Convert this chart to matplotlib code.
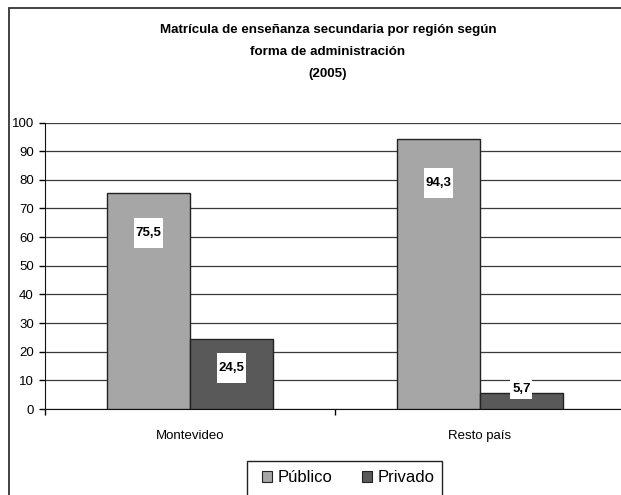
import matplotlib
matplotlib.use("Agg")
import matplotlib.pyplot as plt
from matplotlib.patches import Rectangle, Patch
from matplotlib.transforms import ScaledTranslation
import numpy as np

plt.rcParams["font.family"] = ["Liberation Sans Narrow", "Liberation Sans", "DejaVu Sans"]

# data
regions = ["Montevideo", "Resto país"]
series_names = ["Público", "Privado"]
publico = [75.5, 94.3]
privado = [24.5, 5.7]
title_lines = ["Matrícula de enseñanza secundaria por región según",
               "forma de administración",
               "(2005)"]

colors = ["#a6a6a6", "#595959"]
# label box offsets from bar top (pixels) and box heights, as in the original
label_dy = [[-40, -44], [-29, 4]]
label_h = [[30, 30], [30, 20]]

W, H = 621, 495
fig = plt.figure(figsize=(W / 100, H / 100), dpi=100)

# outer chart border (cropped on the right and bottom)
fig.patches.append(Rectangle((8.5 / W, -0.2), 1.5, 1.2 - 8 / H, transform=fig.transFigure,
                             fill=False, edgecolor="#333333", linewidth=1.3))

ax = fig.add_axes([45 / W, 1 - 409 / H, 580 / W, 286.5 / H])

x = np.arange(len(regions)) + 0.5
bw = 0.286
series = [publico, privado]
for i, (vals, c) in enumerate(zip(series, colors)):
    xs = x + (i - 0.5) * bw
    ax.bar(xs, vals, width=bw, color=c, edgecolor="#222222", linewidth=1.0, zorder=3)
    for j, (xx, v) in enumerate(zip(xs, vals)):
        txt = f"{v:.1f}".replace(".", ",")
        dy = label_dy[i][j]
        h = label_h[i][j]
        w = 7 * len(txt) + 1
        tr = fig.dpi_scale_trans + ScaledTranslation(xx, v, ax.transData)
        ax.add_patch(Rectangle((-w / 2 / 100, (dy - h / 2) / 100), w / 100, h / 100,
                               transform=tr, facecolor="white", edgecolor="none", zorder=4))
        ax.annotate(txt, xy=(xx, v), xytext=(0, dy), textcoords="offset pixels",
                    ha="center", va="center", fontsize=9.5, fontweight="bold", zorder=5)

ax.set_xlim(0, 2)
ax.set_ylim(0, 100)
ax.set_yticks(np.arange(0, 101, 10))
ax.yaxis.grid(True, color="#3a3a3a", linewidth=0.9, zorder=0)
ax.set_axisbelow(True)

ax.set_xticks([0, 1, 2])
ax.set_xticklabels([])
ax.set_xticks(x, minor=True)
ax.set_xticklabels(regions, minor=True)
ax.tick_params(axis="x", which="major", length=4, width=1, direction="out")
ax.tick_params(axis="x", which="minor", length=0, pad=15, labelsize=9.5)
ax.tick_params(axis="y", length=4, width=1, pad=4, labelsize=9.5)

ax.spines["top"].set_visible(False)
ax.spines["right"].set_visible(False)
ax.spines["left"].set_color("#111111")
ax.spines["bottom"].set_color("#111111")

# title, one line at a time (22 px apart)
for k, line in enumerate(title_lines):
    fig.text(328 / W, 1 - (30 + 22 * k) / H, line, ha="center", va="center",
             fontsize=9.6, fontweight="bold")

# legend with a frame that runs off the bottom of the image
handles = [Patch(facecolor=c, edgecolor="#222222", linewidth=0.8, label=n)
           for c, n in zip(colors, series_names)]
fig.legend(handles=handles, loc="center left", bbox_to_anchor=(254 / W, 1 - 478 / H),
           ncol=2, frameon=False, fontsize=12, handlelength=0.6, handleheight=0.6,
           handletextpad=0.3, columnspacing=1.8, borderpad=0)
fig.patches.append(Rectangle((247 / W, -0.1), 195 / W, 0.1 + 1 - 461 / H,
                             transform=fig.transFigure, fill=False,
                             edgecolor="#222222", linewidth=1.0))

fig.savefig("out.png", dpi=100)
